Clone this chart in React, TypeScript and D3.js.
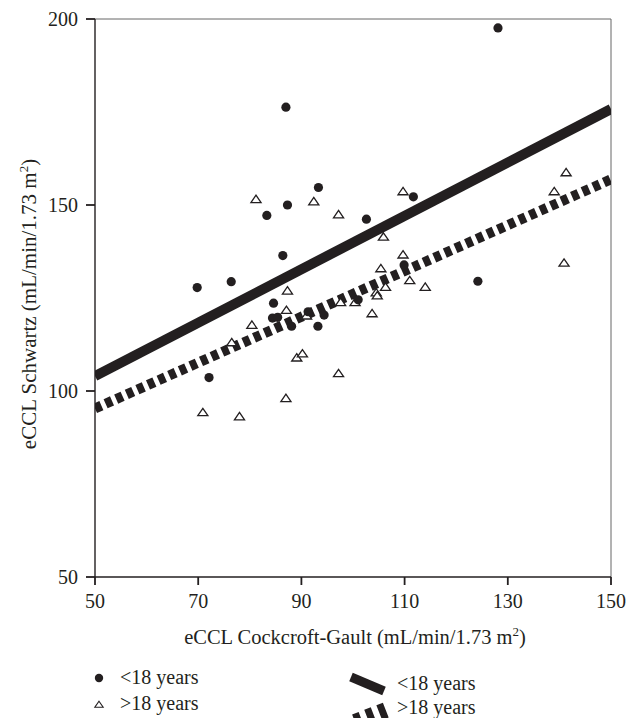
import React from "react";
import * as d3 from "d3";

// <18 years (CG, Schwartz)
const youngCG = [128.1, 87.0, 93.3, 87.3, 83.3, 86.4, 76.4, 69.8, 111.7, 102.6, 109.9, 124.2, 72.1, 84.6, 84.4, 85.4, 88.1, 93.2, 94.4, 91.3, 101.0];
const youngSchwartz = [197.6, 176.3, 154.7, 150.0, 147.2, 136.4, 129.4, 127.8, 152.2, 146.2, 133.9, 129.5, 103.6, 123.6, 119.6, 119.8, 117.4, 117.4, 120.4, 121.3, 124.5];

// >18 years
const adultCG = [81.2, 92.4, 97.2, 87.3, 109.7, 141.3, 139.0, 105.9, 109.7, 105.4, 111.0, 114.0, 106.3, 104.5, 140.9, 104.7, 100.4, 97.6, 103.7, 97.2, 87.1, 80.4, 76.5, 89.1, 90.2, 87.0, 70.9, 78.0, 91.0];
const adultSchwartz = [151.4, 150.8, 147.3, 126.8, 153.5, 158.6, 153.5, 141.3, 136.5, 132.8, 129.6, 127.8, 127.8, 126.3, 134.3, 125.5, 123.7, 123.7, 120.7, 104.6, 121.6, 117.6, 112.9, 108.8, 109.9, 97.9, 94.1, 93.0, 120.1];

// fitted lines
const fitX = [50, 150];
const fitYoung = [104, 175.8];
const fitAdult = [95.3, 156.9];

const xTicks = [50, 70, 90, 110, 130, 150];
const yTicks = [50, 100, 150, 200];

const FONT = "'Liberation Serif', 'Times New Roman', serif";

export default function App() {
  const left = 95, right = 611, top = 19, bottom = 577;
  const x = d3.scaleLinear().domain([50, 150]).range([left, right]);
  const y = d3.scaleLinear().domain([50, 200]).range([bottom, top]);
  const ink = "#231f20";

  const tri = (cx: number, cy: number, s = 4.6) =>
    `M${cx},${cy - s}L${cx + s * 1.1},${cy + s * 0.6}L${cx - s * 1.1},${cy + s * 0.6}Z`;

  return (
    <svg
      width={627}
      height={718}
      style={{ position: "absolute", left: 0, top: 0, background: "#fff" }}
      fontFamily={FONT}
    >
      <defs>
        <clipPath id="plot">
          <rect x={left} y={top} width={right - left} height={bottom - top} />
        </clipPath>
      </defs>

      {/* frame */}
      <line x1={left} x2={right} y1={top} y2={top} stroke="#666" strokeWidth={1} />
      <line x1={right} x2={right} y1={top} y2={bottom} stroke="#666" strokeWidth={1} />
      <line x1={left} x2={left} y1={top} y2={bottom} stroke={ink} strokeWidth={1.4} />
      <line x1={left} x2={right} y1={bottom} y2={bottom} stroke={ink} strokeWidth={1.4} />

      {yTicks.map((t) => (
        <g key={"y" + t}>
          <line x1={left - 9} x2={left} y1={y(t)} y2={y(t)} stroke={ink} strokeWidth={1.8} />
          <text x={left - 17} y={y(t)} dy="0.33em" textAnchor="end" fontSize={20} fill={ink}>
            {t}
          </text>
        </g>
      ))}
      {xTicks.map((t) => (
        <g key={"x" + t}>
          <line x1={x(t)} x2={x(t)} y1={bottom} y2={bottom + 8} stroke={ink} strokeWidth={1.8} />
          <text x={x(t)} y={bottom + 31} textAnchor="middle" fontSize={20} fill={ink}>
            {t}
          </text>
        </g>
      ))}

      <text x={355} y={644} textAnchor="middle" fontSize={20.5} fill={ink}>
        eCCL Cockcroft-Gault (mL/min/1.73 m
        <tspan dy={-8} fontSize={13}>2</tspan>
        <tspan dy={8}>)</tspan>
      </text>
      <text
        transform={`translate(36,304) rotate(-90)`}
        textAnchor="middle"
        fontSize={21}
        fill={ink}
      >
        eCCL Schwartz (mL/min/1.73 m
        <tspan dy={-8} fontSize={13}>2</tspan>
        <tspan dy={8}>)</tspan>
      </text>

      <g clipPath="url(#plot)">
        <line
          x1={x(fitX[0])} y1={y(fitYoung[0])} x2={x(fitX[1])} y2={y(fitYoung[1])}
          stroke={ink} strokeWidth={10}
        />
        <line
          x1={x(fitX[0])} y1={y(fitAdult[0])} x2={x(fitX[1])} y2={y(fitAdult[1])}
          stroke={ink} strokeWidth={10} strokeDasharray="7 4.6"
        />
        {adultCG.map((v, i) => (
          <path key={"a" + i} d={tri(x(v), y(adultSchwartz[i]))} fill="#fff" stroke={ink} strokeWidth={1.3} />
        ))}
        {youngCG.map((v, i) => (
          <circle key={"c" + i} cx={x(v)} cy={y(youngSchwartz[i])} r={4.6} fill={ink} />
        ))}
      </g>

      {/* legend */}
      <circle cx={99} cy={678} r={4.2} fill={ink} />
      <text x={120} y={684} fontSize={20} fill={ink}>&lt;18 years</text>
      <path d={tri(99, 705, 3.8)} fill="#fff" stroke={ink} strokeWidth={1.1} />
      <text x={120} y={710} fontSize={20} fill={ink}>&gt;18 years</text>

      <line x1={351} y1={677} x2={384} y2={691} stroke={ink} strokeWidth={9} />
      <text x={397} y={690} fontSize={20} fill={ink}>&lt;18 years</text>
      <line x1={355} y1={722} x2={386} y2={710} stroke={ink} strokeWidth={16} strokeDasharray="7 6" />
      <text x={397} y={714} fontSize={20} fill={ink}>&gt;18 years</text>
    </svg>
  );
}
